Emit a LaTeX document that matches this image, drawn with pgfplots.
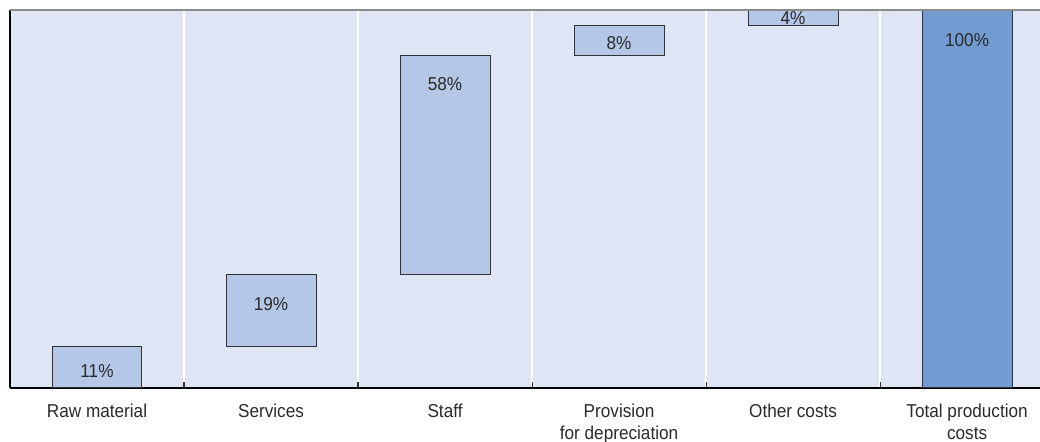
\documentclass[border=0pt]{standalone}
\usepackage{pgfplots}
\pgfplotsset{compat=1.18}
\usepackage{fontspec}
\setmainfont{Liberation Sans}[FakeStretch=0.92]
\definecolor{bgblue}{HTML}{DFE5F4}
\definecolor{lightbar}{HTML}{B4C7E7}
\definecolor{darkbar}{HTML}{729BD2}
\definecolor{edge}{HTML}{333333}
\definecolor{txt}{HTML}{2A2A2A}
\begin{document}
\begin{tikzpicture}
\path[use as bounding box] (-7.5pt,-40.5pt) rectangle (772.5pt,291pt);
\begin{axis}[
  scale only axis, width=772.5pt, height=283.5pt,
  at={(0,0)}, anchor=south west,
  xmin=-0.5, xmax=5.419, ymin=0, ymax=100,
  ybar stacked, bar width=0.517,
  axis background/.style={fill=bgblue},
  axis x line*=bottom, axis y line*=left,
  axis line style={black, line width=1.3pt, -},
  xtick={0,...,5},
  xticklabels={Raw material, Services, Staff, {Provision\\for depreciation}, Other costs, {Total production\\costs}},
  xticklabel style={align=center, font=\fontsize{14}{16.5}\selectfont, text=txt, yshift=-8.5pt},
  major tick length=0pt,
  minor xtick={0.5,1.5,2.5,3.5,4.5},
  minor tick length=4.5pt,
  minor tick style={edge, line width=0.8pt},
  xminorgrids, minor grid style={white, line width=1.2pt},
  ytick=\empty,
  tick align=inside,
  after end axis/.code={\draw[black!45, line width=1.3pt] (rel axis cs:0,1) -- (rel axis cs:1,1);},
]
% invisible base
\addplot[draw=none, fill=none] coordinates {(0,0) (1,11) (2,30) (3,88) (4,96) (5,0)};
% increments
\addplot[draw=edge, fill=lightbar, line width=0.75pt] coordinates {(0,11) (1,19) (2,58) (3,8) (4,4) (5,0)};
% total
\addplot[draw=edge, fill=darkbar, line width=0.75pt] coordinates {(0,0) (1,0) (2,0) (3,0) (4,0) (5,100)};
\end{axis}
\begin{axis}[
  scale only axis, width=772.5pt, height=283.5pt,
  at={(0,0)}, anchor=south west,
  xmin=-0.5, xmax=5.419, ymin=0, ymax=100,
  hide axis, clip=false,
]
\addplot[draw=none, mark=none, nodes near coords, point meta=explicit symbolic,
  every node near coord/.append style={anchor=center, font=\fontsize{14}{16.5}\selectfont, text=txt}]
  coordinates {(0,4.6)[11\%] (1,22.2)[19\%] (2,80.4)[58\%] (3,91.3)[8\%] (4,97.9)[4\%] (5,92.0)[100\%]};
\end{axis}
\end{tikzpicture}
\end{document}
